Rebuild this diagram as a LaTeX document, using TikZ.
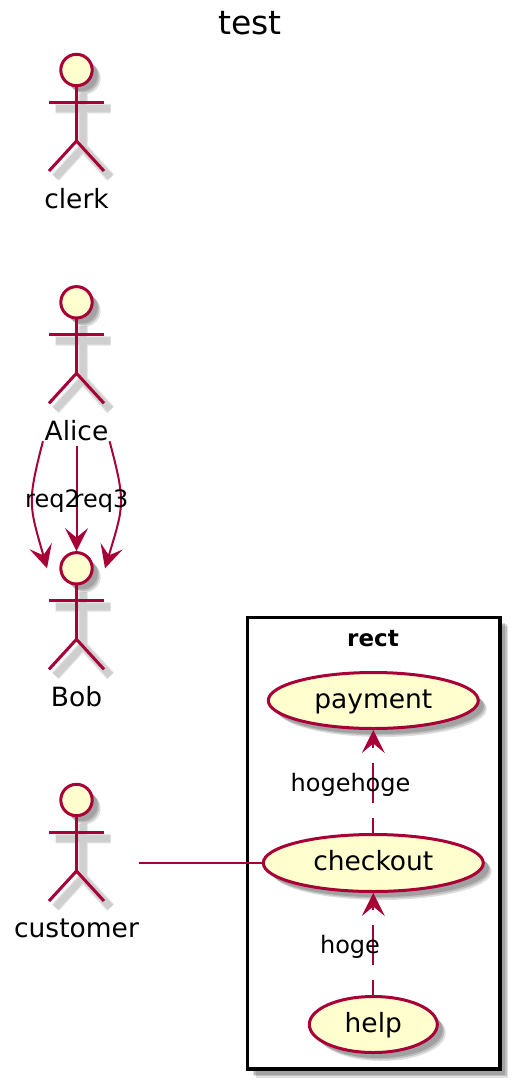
\documentclass[tikz,border=0pt]{standalone}
\usepackage{fontspec}
\setmainfont{DejaVu Sans}
\usetikzlibrary{arrows.meta,shapes.geometric,shadows}

\definecolor{umlline}{HTML}{A80036}
\definecolor{umlfill}{HTML}{FEFECE}

\tikzset{
	softshadow/.style={
		drop shadow={shadow xshift=8.5pt,shadow yshift=-8.5pt,fill=black,opacity=0.12},
		drop shadow={shadow xshift=7pt,shadow yshift=-7pt,fill=black,opacity=0.15},
		drop shadow={shadow xshift=5.5pt,shadow yshift=-5.5pt,fill=black,opacity=0.15}},
	actorhead/.style={circle,draw=umlline,fill=umlfill,line width=3pt,minimum size=31.4pt,inner sep=0pt,softshadow},
	actorline/.style={draw=umlline,line width=3pt},
	actorshade/.style={draw=black,line width=#1,opacity=0.065},
	actorlabel/.style={anchor=base,inner sep=0pt,font=\fontsize{26.5}{30}\selectfont},
	edgelabel/.style={anchor=base,inner sep=0pt,font=\fontsize{24}{28}\selectfont},
	usecase/.style={ellipse,draw=umlline,fill=umlfill,line width=3pt,inner sep=0pt,text height=15pt,text depth=0pt,font=\fontsize{26.5}{30}\selectfont,softshadow},
	assoc/.style={draw=umlline,line width=2pt},
	flow/.style={assoc,-{Stealth[length=23pt,width=23pt,inset=9.5pt,sep=0pt,fill=umlline]}},
	depends/.style={flow,dash pattern=on 40pt off 15pt,dash phase=25pt}
}

\newcommand{\stickfig}[2]{
	\foreach \w in {10pt,8.5pt,7pt}{
		\begin{scope}[shift={(83,#2+6.5)}]
			\draw[actorshade=\w] (0,17) -- (0,71) (-27.5,32) -- (27.5,32) (-27.5,101) -- (0,71) -- (27.5,101);
		\end{scope}
	}
	\draw (76.5,#2) node [actorhead] (#1) {};
	\begin{scope}[shift={(76.5,#2)}]
		\draw[actorline] (0,17) -- (0,71) (-27.5,32) -- (27.5,32);
		\draw[actorline] (-27.5,101) -- (0,71) -- (27.5,101);
	\end{scope}
}

\begin{document}
\begin{tikzpicture}[x=1pt,y=-1pt]
		\useasboundingbox (0,0) rectangle (522,1092);
		\draw (250,34) node [anchor=base,inner sep=0pt,font=\fontsize{33}{36}\selectfont] (title) {test};
		\stickfig{clerk}{70}
		\draw (76.5,208.5) node [actorlabel] (clerklabel) {clerk};
		\stickfig{alice}{302.3}
		\draw (76.5,440.7) node [actorlabel] (alicelabel) {Alice};
		\stickfig{bob}{568.3}
		\draw (76.5,706) node [actorlabel] (boblabel) {Bob};
		\stickfig{customer}{800}
		\draw (76.5,937.7) node [actorlabel] (customerlabel) {customer};
		\coordinate (customerside) at (139,863);
		\draw (373.7,843.3) node [rectangle,draw=black,fill=white,line width=3.5pt,minimum width=252.5pt,minimum height=451.8pt,softshadow] (rect) {};
		\draw (373,646.7) node [anchor=base,inner sep=0pt,font=\bfseries\fontsize{23}{28}\selectfont] (recttitle) {rect};
		\draw (373.3,700.5) node [usecase,minimum width=210pt,minimum height=56pt] (payment) {payment};
		\draw (373.3,863) node [usecase,minimum width=220pt,minimum height=57pt] (checkout) {checkout};
		\draw (373.3,1024.5) node [usecase,minimum width=128pt,minimum height=56pt] (help) {help};
		\draw[flow] ([xshift=-1.5pt]alicelabel.south west) .. controls (27,503) and (29,505) .. ([xshift=-12.3pt]bob.west);
		\draw[flow] ([yshift=-5pt]alicelabel.south) -- (bob.north);
		\draw[flow] ([xshift=1pt]alicelabel.south east) .. controls (126,503) and (124,505) .. ([xshift=11.3pt]bob.east);
		\draw[assoc] (customerside) -- (checkout);
		\draw[depends] (checkout) -- (payment);
		\draw[depends] (help) -- (checkout);
		\draw (52.5,507.3) node [edgelabel] (reqtwo) {req2};
		\draw (101,507.3) node [edgelabel] (reqthree) {req3};
		\draw (350.5,791) node [edgelabel] (hogehoge) {hogehoge};
		\draw (350,953.3) node [edgelabel] (hoge) {hoge};
	\end{tikzpicture}
\end{document}
